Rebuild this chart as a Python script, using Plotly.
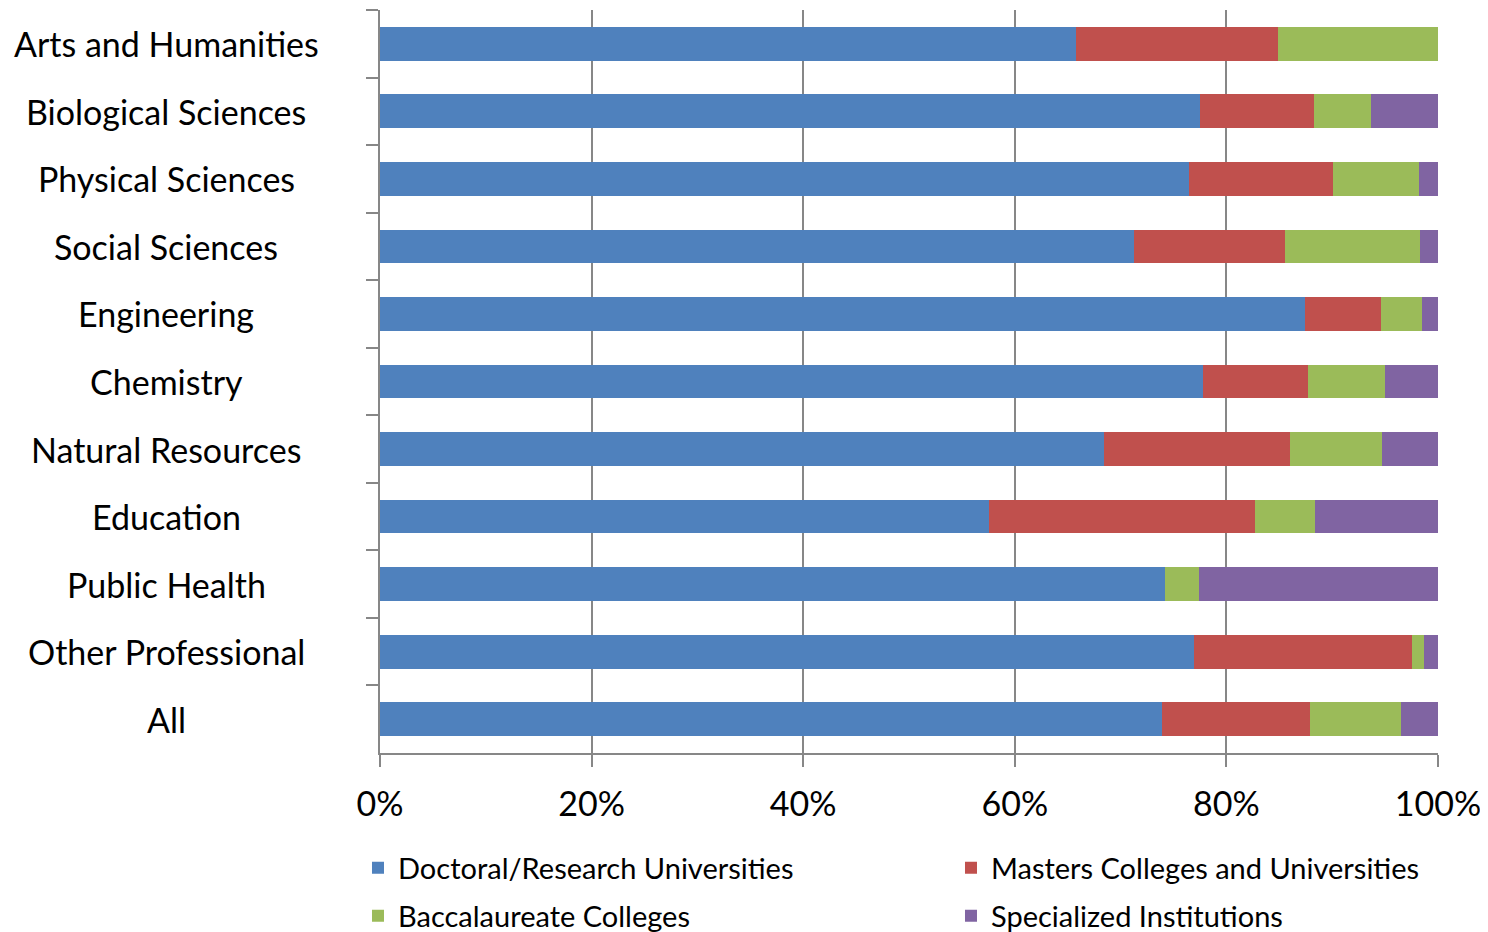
import plotly.graph_objects as go

categories = ["Arts and Humanities", "Biological Sciences", "Physical Sciences",
              "Social Sciences", "Engineering", "Chemistry", "Natural Resources",
              "Education", "Public Health", "Other Professional", "All"]

doctoral = [65.8, 77.5, 76.5, 71.3, 87.4, 77.8, 68.4, 57.6, 74.2, 76.9, 73.9]
masters = [19.1, 10.8, 13.6, 14.2, 7.2, 9.9, 17.6, 25.1, 0.0, 20.6, 14.0]
baccalaureate = [15.1, 5.4, 8.1, 12.8, 3.9, 7.3, 8.7, 5.7, 3.2, 1.2, 8.6]
specialized = [0.0, 6.3, 1.8, 1.7, 1.5, 5.0, 5.3, 11.6, 22.6, 1.3, 3.5]

series = [
    ("Doctoral/Research Universities", doctoral, "#4F81BD", "legend"),
    ("Masters Colleges and Universities", masters, "#C0504D", "legend"),
    ("Baccalaureate Colleges", baccalaureate, "#9BBB59", "legend2"),
    ("Specialized Institutions", specialized, "#8064A2", "legend2"),
]

x_ticks = [0, 20, 40, 60, 80, 100]
x_ticktext = ["0%", "20%", "40%", "60%", "80%", "100%"]

FONT = "Lato"
AXIS_SIZE = 34
LEG_SIZE = 29

fig = go.Figure()
for name, vals, color, leg in series:
    fig.add_trace(go.Bar(
        y=categories, x=vals, name=name, orientation="h",
        marker=dict(color=color, line=dict(width=0)),
        legend=leg,
    ))

for cat in categories:
    fig.add_annotation(
        x=-0.202, xref="paper", y=cat, yref="y",
        text=cat, showarrow=False, xanchor="center", yanchor="middle",
        font=dict(family=FONT, size=AXIS_SIZE, color="#000000"),
    )

legend_common = dict(
    orientation="h", xanchor="left", yanchor="middle",
    xref="paper", yref="paper",
    entrywidth=548, entrywidthmode="pixels",
    font=dict(family=FONT, size=LEG_SIZE, color="#000000"),
    traceorder="normal", itemclick=False, itemdoubleclick=False,
    bgcolor="rgba(0,0,0,0)", borderwidth=0,
)

# the page body adds an 8px margin, so the figure is 8px smaller and shifted
fig.update_layout(
    barmode="stack",
    bargap=0.5,
    width=1480, height=924,
    margin=dict(l=372, r=50, t=2, b=179, autoexpand=False),
    plot_bgcolor="white", paper_bgcolor="white",
    font=dict(family=FONT, size=AXIS_SIZE, color="#000000"),
    showlegend=True,
    legend=dict(x=-0.0208, y=-0.1548, **legend_common),
    legend2=dict(x=-0.0208, y=-0.2194, **legend_common),
    xaxis=dict(
        range=[0, 100], tickvals=x_ticks, ticktext=x_ticktext,
        showgrid=True, gridcolor="#878787", gridwidth=1.5,
        showline=True, linecolor="#878787", linewidth=1.5,
        ticks="outside", ticklen=12, tickcolor="#878787", tickwidth=1.5,
        zeroline=False, fixedrange=True, ticklabelstandoff=8,
        tickfont=dict(family=FONT, size=AXIS_SIZE),
    ),
    yaxis=dict(
        categoryorder="array", categoryarray=categories, autorange="reversed",
        showticklabels=False, showgrid=False,
        showline=True, linecolor="#878787", linewidth=1.5,
        ticks="outside", ticklen=12, tickcolor="#878787", tickwidth=1.5,
        tickson="boundaries", fixedrange=True,
    ),
)

fig.write_html("out.html")
